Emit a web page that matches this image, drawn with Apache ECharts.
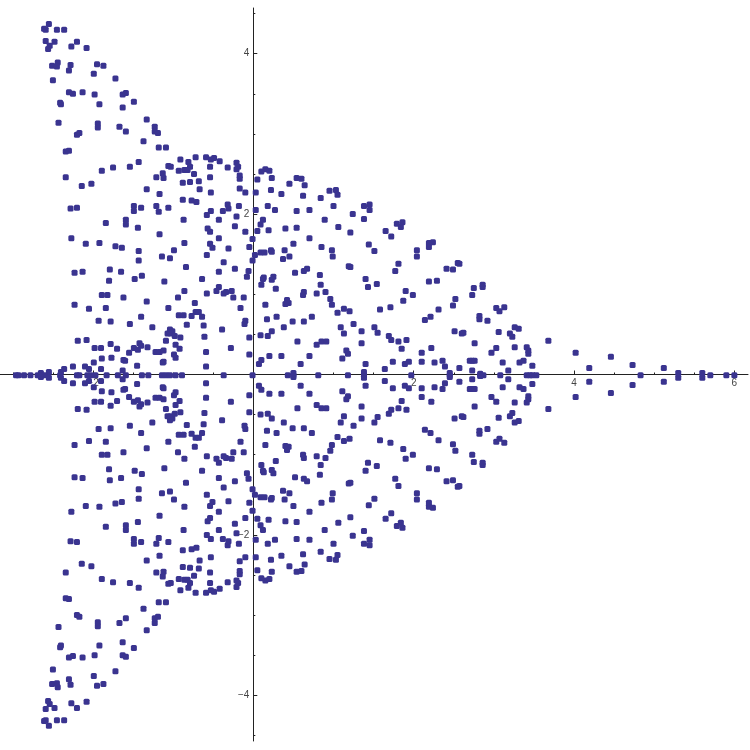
<!DOCTYPE html>
<html>
<head>
<meta charset="utf-8">
<script src="https://cdn.jsdelivr.net/npm/echarts@6/dist/echarts.min.js"></script>
<style>
  html, body { margin: 0; padding: 0; background: #fff; overflow: hidden; }
  #chart { width: 750px; height: 750px; }
</style>
</head>
<body>
<div id="chart"></div>
<script>
// values, [x, y]
const upperLeft = [[-2.55,4.37],[-2.61,4.31],[-2.59,4.30],[-2.45,4.30],[-2.36,4.30],[-2.59,4.16],[-2.48,4.15],[-2.20,4.15],[-2.54,4.10],[-2.56,4.06],[-2.27,4.09],[-2.08,4.07],[-2.44,3.89],[-2.51,3.85],[-2.45,3.84],[-2.28,3.86],[-2.30,3.79],[-1.95,3.87],[-1.87,3.85],[-1.99,3.75],[-2.50,3.67],[-1.72,3.69],[-2.30,3.52],[-2.25,3.50],[-2.13,3.52],[-1.98,3.49],[-1.63,3.49],[-1.59,3.51],[-1.49,3.40],[-2.41,3.39],[-2.40,3.37],[-1.92,3.37],[-1.63,3.33],[-2.43,3.14],[-1.94,3.13],[-1.94,3.08],[-1.67,3.09],[-1.59,3.03],[-1.33,3.18],[-1.23,3.09],[-1.23,3.03],[-1.19,3.01],[-2.20,2.99],[-2.17,3.01],[-1.37,2.91],[-1.18,2.83],[-1.09,2.83],[-2.34,2.78],[-2.30,2.79],[-0.72,2.71],[-0.59,2.71],[-0.49,2.70],[-0.53,2.68],[-0.42,2.66],[-0.91,2.68],[-0.81,2.65],[-1.43,2.65],[-1.54,2.59],[-1.75,2.58],[-1.89,2.54],[-1.06,2.60],[-1.03,2.59],[-0.79,2.59],[-0.54,2.59],[-0.32,2.58],[-0.21,2.64],[-0.19,2.59],[-0.21,2.56],[-0.93,2.54],[-0.86,2.55],[-0.82,2.55],[-1.13,2.51],[-0.74,2.50],[-1.21,2.46],[-1.12,2.45],[-0.54,2.46],[-0.17,2.48],[-0.17,2.44],[-2.34,2.46],[-0.88,2.39],[-0.79,2.40],[-0.68,2.41],[-2.14,2.35],[-2.02,2.38],[-1.33,2.31],[-0.67,2.31],[-0.17,2.32],
[-1.17,2.25],[-0.53,2.27],[-0.10,2.27],[-0.88,2.18],[-0.77,2.17],[-0.71,2.15],[-2.28,2.07],[-2.20,2.08],[-1.49,2.10],[-1.49,2.04],[-1.40,2.08],[-1.21,2.10],[-1.18,2.03],[-1.06,2.08],[-0.53,2.04],[-0.58,1.99],[-0.38,2.04],[-0.32,2.12],[-0.31,2.07],[-0.18,2.10],[-0.21,1.97],[-1.59,1.93],[-1.59,1.87],[-1.84,1.89],[-1.44,1.83],[-0.87,1.93],[-0.43,1.93],[-0.23,1.85],[-0.57,1.82],[-0.54,1.78],[-0.10,1.78],[-1.17,1.75],[-2.27,1.70],[-0.43,1.70],[-2.09,1.63],[-1.92,1.64],[-1.72,1.60],[-1.64,1.58],[-0.86,1.64],[-0.54,1.63],[-0.51,1.58],[-1.43,1.54],[-0.99,1.55],[-0.31,1.57],[-0.05,1.59],[-0.58,1.49],[-1.14,1.47],[-1.04,1.45],[-1.43,1.42],[-0.37,1.40],[-0.84,1.34],[-0.23,1.32],[-2.23,1.27],[-2.13,1.28],[-1.79,1.31],[-1.65,1.28],[-0.43,1.28],[-0.06,1.29],[-0.08,1.22],[-1.80,1.17],[-1.48,1.19],[-1.39,1.23],[-1.11,1.16],[-0.64,1.19],[-0.43,1.09],[-0.46,1.04],[-0.34,1.03],[-0.27,1.04],[-0.37,1.01],[-0.86,1.04],[-0.58,1.01],[-1.89,0.99],[-1.82,0.99],[-1.62,0.96],[-0.94,0.96],[-0.25,0.96],[-0.12,0.96],[-1.33,0.91],[-0.73,0.89],[-2.23,0.87],[-2.05,0.82],[-1.84,0.83],[-1.06,0.83],[-0.16,0.83],[-0.72,0.78],[-0.68,0.78],[-0.93,0.74],[-0.87,0.74],[-0.77,0.73],[-0.64,0.72],[-1.40,0.72],[-1.93,0.67],[-1.78,0.66],[-1.54,0.63],[-0.10,0.67],[-0.11,0.63],[-0.83,0.62],[-0.62,0.61],[-1.26,0.59],[-0.39,0.56],[-1.04,0.56],[-1.01,0.54],[-1.07,0.51],[-1.03,0.51],[-0.98,0.48],[-0.91,0.46],[-0.61,0.47],[-0.05,0.46],[-2.19,0.42],[-2.08,0.43],[-1.09,0.42],[-1.42,0.39],[-1.78,0.38],[-0.97,0.37],[-1.98,0.33],[-1.90,0.33],[-1.70,0.32],[-1.49,0.33],[-1.40,0.36],[-1.44,0.31],[-1.32,0.34],[-0.92,0.32],[-0.28,0.33],[-1.55,0.27],[-1.22,0.28],[-1.17,0.28],[-1.12,0.30],[-0.59,0.28],[-1.89,0.20],[-1.77,0.21],[-1.62,0.18],[-1.60,0.17],[-0.99,0.25],[-0.97,0.21],[-0.05,0.25],[-1.99,0.15],[-1.13,0.15],[-1.12,0.16],[-2.25,0.10],[-2.10,0.10],[-2.05,0.07],[-2.36,0.07],[-1.90,0.07],[-1.45,0.11],[-0.59,0.10],[-1.63,0.05],[-2.40,0.03],[-2.55,0.03],[-2.65,0.02]];

const upperRight = [[0.15,2.56],[0.10,2.53],[0.20,2.54],[0.23,2.45],[0.05,2.43],[0.54,2.45],[0.60,2.44],[0.64,2.36],[0.45,2.38],[0.22,2.30],[0.03,2.27],[0.35,2.25],[0.62,2.23],[0.95,2.29],[1.03,2.30],[1.05,2.24],[0.84,2.20],[1.00,2.10],[1.38,2.10],[1.45,2.12],[1.45,2.05],[0.18,2.10],[0.27,2.05],[0.03,2.05],[0.54,2.04],[0.70,2.05],[1.24,2.00],[1.38,1.94],[0.89,1.93],[0.12,1.93],[0.09,1.87],[1.79,1.88],[1.86,1.90],[1.84,1.84],[1.06,1.84],[0.19,1.80],[0.40,1.82],[0.54,1.83],[0.05,1.79],[1.21,1.77],[1.65,1.79],[1.72,1.72],[0.70,1.70],[-0.01,1.69],[2.19,1.64],[2.24,1.65],[2.19,1.59],[0.50,1.63],[1.44,1.62],[0.85,1.59],[0.98,1.55],[1.51,1.54],[2.04,1.55],[0.39,1.55],[0.22,1.55],[0.23,1.53],[0.09,1.52],[0.14,1.52],[0.02,1.49],[0.45,1.47],[0.37,1.44],[0.99,1.47],[2.04,1.47],[-0.01,1.42],[2.55,1.39],[2.57,1.38],[1.81,1.38],[1.19,1.35],[1.21,1.34],[2.41,1.32],[2.49,1.31],[1.77,1.29],[0.67,1.32],[0.63,1.29],[0.52,1.27],[0.83,1.24],[0.25,1.22],[0.13,1.21],[0.12,1.19],[0.23,1.18],[1.40,1.19],[2.19,1.16],[2.29,1.17],[1.54,1.13],[0.10,1.12],[0.84,1.12],[1.43,1.09],[2.86,1.12],[2.86,1.09],[2.75,1.08],[0.28,1.07],[0.90,1.03],[0.63,1.03],[1.90,1.04],[0.62,0.99],[0.79,1.01],[1.99,0.99],[2.73,0.99],[0.96,0.94],[0.42,0.93],[2.52,0.94],[1.87,0.92],[0.44,0.89],[0.40,0.88],[0.15,0.87],[0.98,0.87],[1.71,0.84],[2.49,0.86],[3.03,0.83],[3.07,0.79],[1.13,0.82],[1.20,0.79],[1.58,0.81],[2.31,0.81],[1.05,0.77],[0.29,0.72],[0.73,0.72],[0.17,0.69],[2.82,0.73],[2.82,0.69],[2.21,0.72],[2.14,0.68],[2.92,0.67],[0.49,0.66],[0.63,0.66],[1.25,0.63],[0.38,0.59],[1.09,0.59],[1.51,0.59],[0.23,0.54],[1.35,0.54],[2.51,0.54],[3.06,0.53],[0.09,0.49],[0.18,0.48],[1.13,0.51],[1.55,0.52],[2.60,0.51],[2.62,0.52],[1.69,0.48],[1.72,0.43],[1.91,0.43],[1.81,0.41],[0.55,0.41],[0.85,0.41],[0.91,0.41],[0.79,0.37],[1.35,0.39],[2.76,0.39],[3.03,0.33],[2.22,0.33],[1.85,0.32],[1.16,0.30],[1.18,0.26],[2.97,0.27],[2.10,0.27],[0.20,0.23],[0.35,0.23],[0.70,0.23],[1.11,0.20],[0.10,0.18],[0.07,0.13],[0.59,0.13],[1.40,0.13],[1.74,0.16],[1.89,0.13],[1.94,0.16],[2.10,0.16],[2.26,0.15],[2.36,0.17],[2.39,0.10],[2.57,0.08],[2.70,0.17],[2.73,0.17],[2.76,0.17],[2.73,0.05],[1.64,0.07],[1.38,0.03],[2.45,0.02],[2.83,0.01],[0.50,0.02],
[3.13,0.84],[3.26,0.59],[3.31,0.57],[3.20,0.51],[3.23,0.47],[3.68,0.42],[3.26,0.34],[3.41,0.34],[3.43,0.30],[3.43,0.26],[4.02,0.27],[4.46,0.22],[3.11,0.15],[3.32,0.15],[3.37,0.17],[3.48,0.11],[4.19,0.08],[4.73,0.12],[5.12,0.08],[3.18,0.05],[5.30,0.02],[5.60,0.02]];

const onAxis = [[-2.96,-0.01],[-2.93,-0.01],[-2.86,-0.01],[-2.78,-0.01],[-2.69,-0.01],[-2.65,-0.01],[-2.61,-0.01],[-2.41,-0.01],[-2.20,-0.01],[-2.17,-0.01],[-2.07,-0.01],[-2.03,-0.01],[-1.97,-0.01],[-1.83,-0.01],[-1.69,-0.01],[-1.59,-0.01],[-1.39,-0.01],[-1.31,-0.01],[-1.14,-0.01],[-1.09,-0.01],[-1.04,-0.01],[-0.97,-0.01],[-0.89,-0.01],[-0.37,-0.01],[-0.01,-0.01],[0.43,-0.01],[0.50,-0.01],[0.81,-0.01],[1.18,-0.01],[1.38,-0.01],[1.97,-0.01],[2.45,-0.01],[2.83,-0.01],[2.87,-0.01],[3.08,-0.01],[3.41,-0.01],[3.45,-0.01],[3.48,-0.01],[3.53,-0.01],[4.83,-0.01],[5.70,-0.01],[5.90,-0.01],[6.00,-0.01]];

const lowerLeft = [[-2.55,-4.38],[-2.61,-4.32],[-2.59,-4.31],[-2.45,-4.31],[-2.36,-4.31],[-2.59,-4.17],[-2.48,-4.16],[-2.20,-4.16],[-2.54,-4.11],[-2.56,-4.07],[-2.27,-4.10],[-2.08,-4.08],[-2.44,-3.90],[-2.51,-3.86],[-2.45,-3.85],[-2.28,-3.87],[-2.30,-3.80],[-1.95,-3.88],[-1.87,-3.86],[-1.99,-3.76],[-2.50,-3.68],[-1.72,-3.70],[-2.30,-3.53],[-2.25,-3.51],[-2.13,-3.53],[-1.98,-3.50],[-1.63,-3.50],[-1.59,-3.52],[-1.49,-3.41],[-2.41,-3.40],[-2.40,-3.38],[-1.92,-3.38],[-1.63,-3.34],[-2.43,-3.15],[-1.94,-3.14],[-1.94,-3.09],[-1.67,-3.10],[-1.59,-3.04],[-1.33,-3.19],[-1.23,-3.10],[-1.23,-3.04],[-1.19,-3.02],[-2.20,-3.00],[-2.17,-3.02],[-1.37,-2.92],[-1.18,-2.84],[-1.09,-2.84],[-2.34,-2.79],[-2.30,-2.80],[-0.72,-2.72],[-0.59,-2.72],[-0.49,-2.71],[-0.53,-2.69],[-0.42,-2.67],[-0.91,-2.69],[-0.81,-2.66],[-1.43,-2.66],[-1.54,-2.60],[-1.75,-2.59],[-1.89,-2.55],[-1.06,-2.61],[-1.03,-2.60],[-0.79,-2.60],[-0.54,-2.60],[-0.32,-2.59],[-0.21,-2.65],[-0.19,-2.60],[-0.21,-2.57],[-0.93,-2.55],[-0.86,-2.56],[-0.82,-2.56],[-1.13,-2.52],[-0.74,-2.51],[-1.21,-2.47],[-1.12,-2.46],[-0.54,-2.47],[-0.17,-2.49],[-0.17,-2.45],[-2.34,-2.47],[-0.88,-2.40],[-0.79,-2.41],[-0.68,-2.42],[-2.14,-2.36],[-2.02,-2.39],[-1.33,-2.32],[-0.67,-2.32],[-0.17,-2.33],
[-1.17,-2.26],[-0.53,-2.28],[-0.10,-2.28],[-0.88,-2.19],[-0.77,-2.18],[-0.71,-2.16],[-2.28,-2.08],[-2.20,-2.09],[-1.49,-2.11],[-1.49,-2.05],[-1.40,-2.09],[-1.21,-2.11],[-1.18,-2.04],[-1.06,-2.09],[-0.53,-2.05],[-0.58,-2.00],[-0.38,-2.05],[-0.32,-2.13],[-0.31,-2.08],[-0.18,-2.11],[-0.21,-1.98],[-1.59,-1.94],[-1.59,-1.88],[-1.84,-1.90],[-1.44,-1.84],[-0.87,-1.94],[-0.43,-1.94],[-0.23,-1.86],[-0.57,-1.83],[-0.54,-1.79],[-0.10,-1.79],[-1.17,-1.76],[-2.27,-1.71],[-0.43,-1.71],[-2.09,-1.64],[-1.92,-1.65],[-1.72,-1.61],[-1.64,-1.59],[-0.86,-1.65],[-0.54,-1.64],[-0.51,-1.59],[-1.43,-1.55],[-0.99,-1.56],[-0.31,-1.58],[-0.05,-1.60],[-0.58,-1.50],[-1.14,-1.48],[-1.04,-1.46],[-1.43,-1.43],[-0.37,-1.41],[-0.84,-1.35],[-0.23,-1.33],[-2.23,-1.28],[-2.13,-1.29],[-1.79,-1.32],[-1.65,-1.29],[-0.43,-1.29],[-0.06,-1.30],[-0.08,-1.23],[-1.80,-1.18],[-1.48,-1.20],[-1.39,-1.24],[-1.11,-1.17],[-0.64,-1.20],[-0.43,-1.10],[-0.46,-1.05],[-0.34,-1.04],[-0.27,-1.05],[-0.37,-1.02],[-0.86,-1.05],[-0.58,-1.02],[-1.89,-1.00],[-1.82,-1.00],[-1.62,-0.97],[-0.94,-0.97],[-0.25,-0.97],[-0.12,-0.97],[-1.33,-0.92],[-0.73,-0.90],[-2.23,-0.88],[-2.05,-0.83],[-1.84,-0.84],[-1.06,-0.84],[-0.16,-0.84],[-0.72,-0.79],[-0.68,-0.79],[-0.93,-0.75],[-0.87,-0.75],[-0.77,-0.74],[-0.64,-0.73],[-1.40,-0.73],[-1.93,-0.68],[-1.78,-0.67],[-1.54,-0.64],[-0.10,-0.68],[-0.11,-0.64],[-0.83,-0.63],[-0.62,-0.62],[-1.26,-0.60],[-0.39,-0.57],[-1.04,-0.57],[-1.01,-0.55],[-1.07,-0.52],[-1.03,-0.52],[-0.98,-0.49],[-0.91,-0.47],[-0.61,-0.48],[-0.05,-0.47],[-2.19,-0.43],[-2.08,-0.44],[-1.09,-0.43],[-1.42,-0.40],[-1.78,-0.39],[-0.97,-0.38],[-1.98,-0.34],[-1.90,-0.34],[-1.70,-0.33],[-1.49,-0.34],[-1.40,-0.37],[-1.44,-0.32],[-1.32,-0.35],[-0.92,-0.33],[-0.28,-0.34],[-1.55,-0.28],[-1.22,-0.29],[-1.17,-0.29],[-1.12,-0.31],[-0.59,-0.29],[-1.89,-0.21],[-1.77,-0.22],[-1.62,-0.19],[-1.60,-0.18],[-0.99,-0.26],[-0.97,-0.22],[-0.05,-0.26],[-1.99,-0.16],[-1.13,-0.16],[-1.12,-0.17],[-2.25,-0.11],[-2.10,-0.11],[-2.05,-0.08],[-2.36,-0.08],[-1.90,-0.08],[-1.45,-0.12],[-0.59,-0.11],[-1.63,-0.06],[-2.40,-0.04],[-2.55,-0.04],[-2.65,-0.03]];

const lowerRight = [[0.15,-2.57],[0.10,-2.54],[0.20,-2.55],[0.23,-2.46],[0.05,-2.44],[0.54,-2.46],[0.60,-2.45],[0.64,-2.37],[0.45,-2.39],[0.22,-2.31],[0.03,-2.28],[0.35,-2.26],[0.62,-2.24],[0.95,-2.30],[1.03,-2.31],[1.05,-2.25],[0.84,-2.21],[1.00,-2.11],[1.38,-2.11],[1.45,-2.13],[1.45,-2.06],[0.18,-2.11],[0.27,-2.06],[0.03,-2.06],[0.54,-2.05],[0.70,-2.06],[1.24,-2.01],[1.38,-1.95],[0.89,-1.94],[0.12,-1.94],[0.09,-1.88],[1.79,-1.89],[1.86,-1.91],[1.84,-1.85],[1.06,-1.85],[0.19,-1.81],[0.40,-1.83],[0.54,-1.84],[0.05,-1.80],[1.21,-1.78],[1.65,-1.80],[1.72,-1.73],[0.70,-1.71],[-0.01,-1.70],[2.19,-1.65],[2.24,-1.66],[2.19,-1.60],[0.50,-1.64],[1.44,-1.63],[0.85,-1.60],[0.98,-1.56],[1.51,-1.55],[2.04,-1.56],[0.39,-1.56],[0.22,-1.56],[0.23,-1.54],[0.09,-1.53],[0.14,-1.53],[0.02,-1.50],[0.45,-1.48],[0.37,-1.45],[0.99,-1.48],[2.04,-1.48],[-0.01,-1.43],[2.55,-1.40],[2.57,-1.39],[1.81,-1.39],[1.19,-1.36],[1.21,-1.35],[2.41,-1.33],[2.49,-1.32],[1.77,-1.30],[0.67,-1.33],[0.63,-1.30],[0.52,-1.28],[0.83,-1.25],[0.25,-1.23],[0.13,-1.22],[0.12,-1.20],[0.23,-1.19],[1.40,-1.20],[2.19,-1.17],[2.29,-1.18],[1.54,-1.14],[0.10,-1.13],[0.84,-1.13],[1.43,-1.10],[2.86,-1.13],[2.86,-1.10],[2.75,-1.09],[0.28,-1.08],[0.90,-1.04],[0.63,-1.04],[1.90,-1.05],[0.62,-1.00],[0.79,-1.02],[1.99,-1.00],[2.73,-1.00],[0.96,-0.95],[0.42,-0.94],[2.52,-0.95],[1.87,-0.93],[0.44,-0.90],[0.40,-0.89],[0.15,-0.88],[0.98,-0.88],[1.71,-0.85],[2.49,-0.87],[3.03,-0.84],[3.07,-0.80],[1.13,-0.83],[1.20,-0.80],[1.58,-0.82],[2.31,-0.82],[1.05,-0.78],[0.29,-0.73],[0.73,-0.73],[0.17,-0.70],[2.82,-0.74],[2.82,-0.70],[2.21,-0.73],[2.14,-0.69],[2.92,-0.68],[0.49,-0.67],[0.63,-0.67],[1.25,-0.64],[0.38,-0.60],[1.09,-0.60],[1.51,-0.60],[0.23,-0.55],[1.35,-0.55],[2.51,-0.55],[3.06,-0.54],[0.09,-0.50],[0.18,-0.49],[1.13,-0.52],[1.55,-0.53],[2.60,-0.52],[2.62,-0.53],[1.69,-0.49],[1.72,-0.44],[1.91,-0.44],[1.81,-0.42],[0.55,-0.42],[0.85,-0.42],[0.91,-0.42],[0.79,-0.38],[1.35,-0.40],[2.76,-0.40],[3.03,-0.34],[2.22,-0.34],[1.85,-0.33],[1.16,-0.31],[1.18,-0.27],[2.97,-0.28],[2.10,-0.28],[0.20,-0.24],[0.35,-0.24],[0.70,-0.24],[1.11,-0.21],[0.10,-0.19],[0.07,-0.14],[0.59,-0.14],[1.40,-0.14],[1.74,-0.17],[1.89,-0.14],[1.94,-0.17],[2.10,-0.17],[2.26,-0.16],[2.36,-0.18],[2.39,-0.11],[2.57,-0.09],[2.70,-0.18],[2.73,-0.18],[2.76,-0.18],[2.73,-0.06],[1.64,-0.08],[1.38,-0.04],[2.45,-0.03],[2.83,-0.02],[0.50,-0.03],
[3.13,-0.85],[3.26,-0.60],[3.31,-0.58],[3.20,-0.52],[3.23,-0.48],[3.68,-0.43],[3.26,-0.35],[3.41,-0.35],[3.43,-0.31],[3.43,-0.27],[4.02,-0.28],[4.46,-0.23],[3.11,-0.16],[3.32,-0.16],[3.37,-0.18],[3.48,-0.12],[4.19,-0.09],[4.73,-0.13],[5.12,-0.09],[3.18,-0.06],[5.30,-0.04],[5.60,-0.04]];

// tick positions and labels
const xMajorTicks = [-2, 2, 4, 6];
const xMinorTicks = [-3, -2.5, -1.5, -1, -0.5, 0.5, 1, 1.5, 2.5, 3, 3.5, 4.5, 5, 5.5];
const yMajorTicks = [-4, -2, 2, 4];
const yMinorTicks = [-4.5, -3.5, -3, -2.5, -1.5, -1, -0.5, 0.5, 1, 1.5, 2.5, 3, 3.5, 4.5];

const allPoints = [].concat(upperLeft, upperRight, onAxis, lowerLeft, lowerRight);

const tickLabel = (v) => String(v).replace('-', '\u2212');

const chartInstance = echarts.init(document.getElementById('chart'), null, { renderer: 'canvas' });

// axes sit on the zero lines, moved there with offset so the labels follow
const xOffset = -366.5;
const yOffset = -253.3;
const axisLine = { show: true, onZero: false, lineStyle: { color: '#222', width: 1 } };
const labelStyle = { color: '#444', fontFamily: 'Liberation Sans', fontSize: 10, formatter: tickLabel };

chartInstance.setOption({
  animation: false,
  backgroundColor: '#fff',
  grid: { left: 0, top: 8, width: 748, height: 733, containLabel: false, outerBoundsMode: 'none' },
  xAxis: [
    {
      type: 'value', min: -3.16, max: 6.17, position: 'bottom', offset: xOffset,
      axisLine: axisLine,
      axisTick: { show: true, inside: true, length: 4, customValues: xMajorTicks, lineStyle: { color: '#222' } },
      axisLabel: Object.assign({ show: true, margin: 4, customValues: xMajorTicks }, labelStyle),
      splitLine: { show: false }
    },
    {
      type: 'value', min: -3.16, max: 6.17, position: 'bottom', offset: xOffset,
      axisLine: { show: false, onZero: false },
      axisTick: { show: true, inside: true, length: 2, customValues: xMinorTicks, lineStyle: { color: '#222' } },
      axisLabel: { show: false },
      splitLine: { show: false }
    }
  ],
  yAxis: [
    {
      type: 'value', min: -4.57, max: 4.57, position: 'left', offset: yOffset,
      axisLine: axisLine,
      axisTick: { show: true, inside: true, length: 4, customValues: yMajorTicks, lineStyle: { color: '#222' } },
      axisLabel: Object.assign({ show: true, margin: 4, customValues: yMajorTicks }, labelStyle),
      splitLine: { show: false }
    },
    {
      type: 'value', min: -4.57, max: 4.57, position: 'left', offset: yOffset,
      axisLine: { show: false, onZero: false },
      axisTick: { show: true, inside: true, length: 2, customValues: yMinorTicks, lineStyle: { color: '#222' } },
      axisLabel: { show: false },
      splitLine: { show: false }
    }
  ],
  series: [
    {
      type: 'scatter',
      symbol: 'roundRect',
      symbolSize: 6,
      itemStyle: { color: '#3a3490', opacity: 1 },
      data: allPoints,
      z: 5
    }
  ]
});
</script>
</body>
</html>
